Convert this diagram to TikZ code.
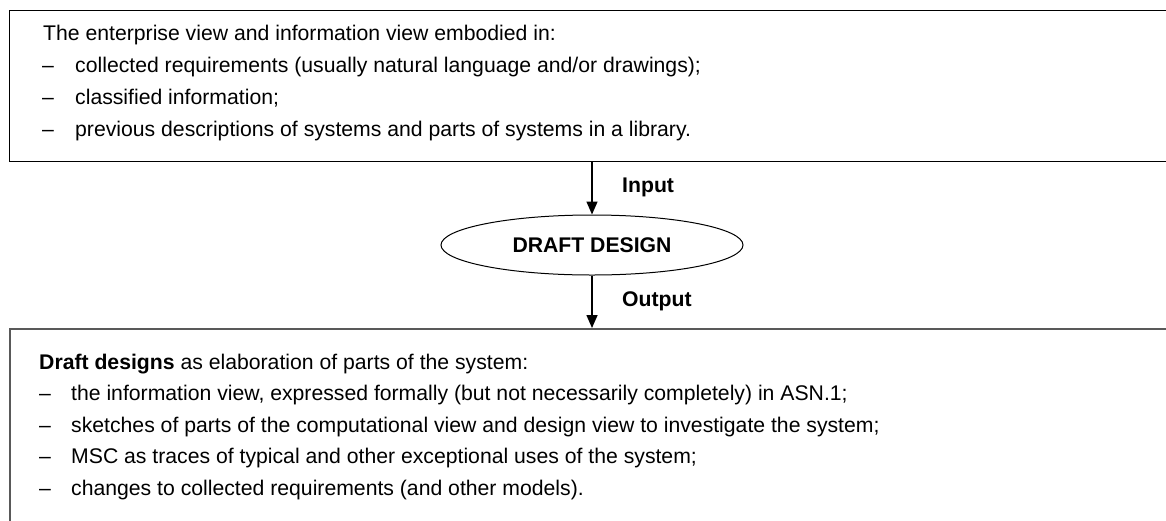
\documentclass[tikz,border=0pt]{standalone}
\usepackage{fontspec}
\setmainfont{Liberation Sans}
\usetikzlibrary{shapes.geometric,arrows.meta}

\begin{document}
\begin{tikzpicture}
  [x=1pt,y=-1pt,
   txt/.style={anchor=base west,inner sep=0pt,font=\fontsize{21.2}{25}\selectfont},
   lbl/.style={txt,font=\fontsize{21.2}{25}\selectfont\bfseries},
   box/.style={draw,line width=1.3pt,anchor=north west,inner sep=0pt,minimum width=1200pt},
   arr/.style={line width=1.5pt,-{Triangle[width=11pt,length=13pt]}}]
  \useasboundingbox (0,0) rectangle (1166,520);

  % the two boxes, open on the right
  \node[box,minimum height=151pt] (inbox) at (9,10) {};
  \node[box,draw=black!65,line width=1.6pt,minimum height=220pt] (outbox) at (9,328) {};

  % input text
  \node[txt] (in0) at (43,40) {The enterprise view and information view embodied in:};
  \foreach \t [count=\i] in {{collected requirements (usually natural language and/or drawings);},
      {classified information;},
      {previous descriptions of systems and parts of systems in a library.}}
  {
    \node[txt] (ind\i) at (42,{40+32.3*\i}) {–};
    \node[txt] (in\i) at (75,{40+32.3*\i}) {\t};
  }

  \node[draw,ellipse,line width=1pt,minimum width=302pt,minimum height=60pt,inner sep=0pt,
    font=\fontsize{21.2}{25}\selectfont\bfseries] (design) at (592,245) {DRAFT DESIGN};

  \draw[arr] (inbox.south -| design.north) -- (design.north);
  \draw[arr] (design.south) -- (design.south |- outbox.north);
  \node[lbl] (inlbl) at (622,192) {Input};
  \node[lbl] (outlbl) at (622,306) {Output};

  % output text
  \node[txt] (out0) at (39,369) {\textbf{Draft designs} as elaboration of parts of the system:};
  \foreach \t [count=\i] in {{the information view, expressed formally (but not necessarily completely) in ASN.1;},
      {sketches of parts of the computational view and design view to investigate the system;},
      {MSC as traces of typical and other exceptional uses of the system;},
      {changes to collected requirements (and other models).}}
  {
    \node[txt] (outd\i) at (39,{369+31.6*\i}) {–};
    \node[txt] (out\i) at (71,{369+31.6*\i}) {\t};
  }

\end{tikzpicture}
\end{document}
